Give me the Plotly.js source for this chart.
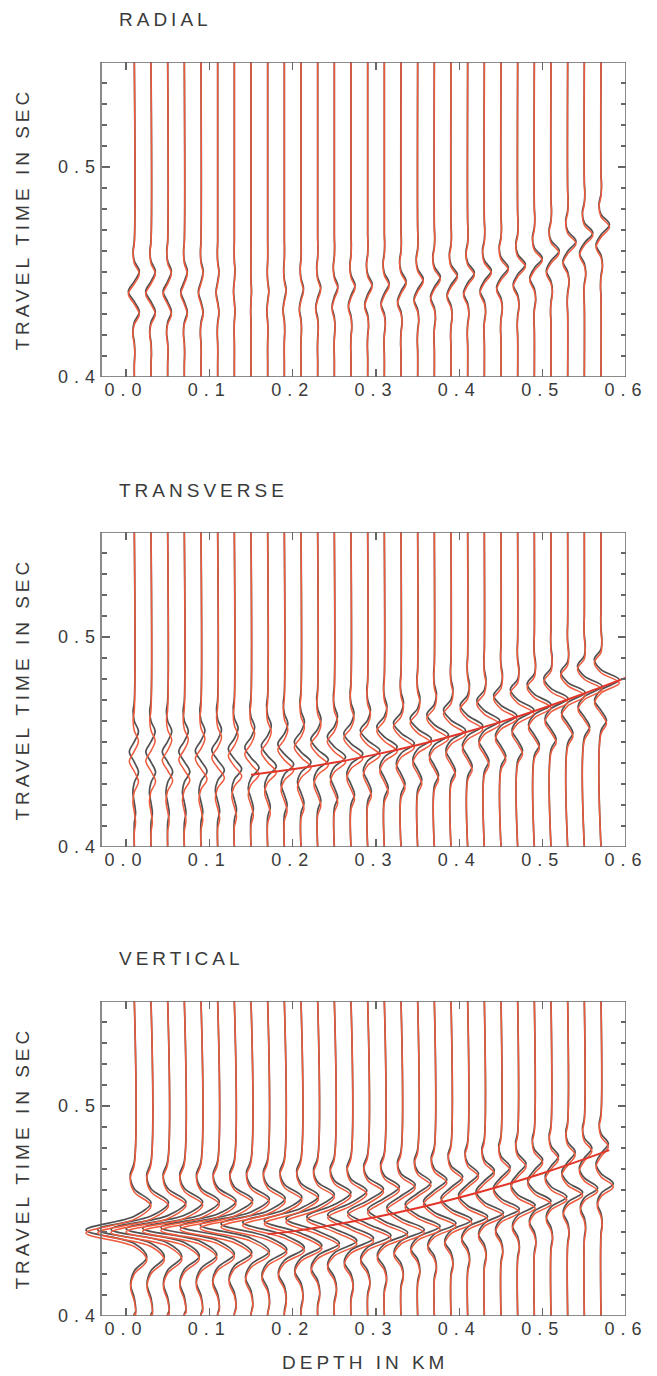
<!DOCTYPE html>
<html>
<head>
<meta charset="utf-8">
<script src="https://cdn.plot.ly/plotly-3.0.1.min.js"></script>
<style>
  html, body { margin: 0; padding: 0; background: #ffffff; }
  #chart { width: 657px; height: 1376px; }
  .xaxislayer-above text, .yaxislayer-above text { letter-spacing: 6px; }
  .annotation-text { letter-spacing: 4px; }
</style>
</head>
<body>
<div id="chart"></div>
<script>
// ---------------- DATA ----------------
const depths = [0.01,0.03,0.05,0.07,0.09,0.11,0.13,0.15,0.17,0.19,0.21,0.23,0.25,0.27,0.29,
                0.31,0.33,0.35,0.37,0.39,0.41,0.43,0.45,0.47,0.49,0.51,0.53,0.55,0.57];
const xTickVals = [0.0,0.1,0.2,0.3,0.4,0.5,0.6];
const xTickText = ['0.0','0.1','0.2','0.3','0.4','0.5','0.6'];
const yTickVals = [0.4,0.5];
const yTickText = ['0.4','0.5'];
const panelTitles = ['RADIAL','TRANSVERSE','VERTICAL'];

// RADIAL: centre-lobe time (s), lobe spacing (s) and lobe deflections (km) below / at / above the centre
const radCentre = [.4395,.4395,.4395,.4395,.4395,.4395,.4400,.4400,.4400,.4405,.4410,.4415,.4420,.4425,.4430,
                   .4435,.4445,.4455,.4465,.4475,.4485,.4495,.4510,.4525,.4555,.4590,.4635,.4675,.4714];
const radSpacing = [.0097,.0097,.0097,.0097,.0097,.0097,.0097,.0097,.0097,.0097,.0097,.0097,.0097,.0097,.0097,
                    .0097,.0097,.0097,.0097,.0097,.0097,.0097,.0097,.0097,.0097,.0097,.0097,.0097,.0097];
const radLow  = [.0060,.0052,.0045,.0036,.0026,.0016,.0008,-.0004,-.0010,-.0016,-.0020,-.0024,-.0028,-.0032,-.0036,
                 -.0040,-.0042,-.0044,-.0046,-.0048,-.0050,-.0052,-.0053,-.0054,-.0055,-.0056,-.0057,-.0058,-.0060];
const radMid  = [-.0072,-.0064,-.0055,-.0044,-.0032,-.0020,-.0010,.0006,.0014,.0022,.0030,.0037,.0043,.0049,.0054,
                 .0058,.0062,.0067,.0072,.0076,.0080,.0084,.0088,.0092,.0095,.0098,.0100,.0102,.0102];
const radHigh = [.0060,.0052,.0045,.0036,.0026,.0016,.0008,-.0002,-.0005,-.0008,-.0010,-.0012,-.0013,-.0014,-.0015,
                 -.0016,-.0017,-.0018,-.0019,-.0020,-.0021,-.0022,-.0022,-.0023,-.0023,-.0024,-.0024,-.0024,-.0024];
const radShadowShift = [.0012,.0012,.0012,.0012,.0012,.0012,.0012,.0012,.0012,.0012,.0012,.0012,.0012,.0012,.0012,
                        .0012,.0012,.0012,.0012,.0012,.0012,.0012,.0012,.0012,.0012,.0012,.0012,.0012,.0012];

// TRANSVERSE
const trnCentre = [.4408,.4409,.4412,.4415,.4420,.4426,.4434,.4442,.4452,.4463,.4475,.4488,.4502,.4518,.4534,
                   .4552,.4571,.4591,.4612,.4634,.4657,.4681,.4706,.4733,.4760,.4788,.4817,.4847,.4878];
const trnSpacing = [.0097,.0097,.0097,.0097,.0097,.0097,.0097,.0097,.0097,.0097,.0097,.0097,.0097,.0097,.0097,
                    .0097,.0097,.0097,.0097,.0097,.0097,.0097,.0097,.0097,.0097,.0097,.0097,.0097,.0097];
const trnLow  = [.0050,.0055,.0060,.0066,.0072,.0080,.0088,.0096,.0104,.0112,.0120,.0128,.0135,.0142,.0148,
                 .0154,.0160,.0165,.0170,.0175,.0180,.0185,.0190,.0195,.0200,.0205,.0210,.0215,.0220];
const trnMid  = [-.0060,-.0062,-.0064,-.0066,-.0068,-.0070,-.0072,-.0074,-.0076,-.0078,-.0080,-.0082,-.0084,-.0086,-.0088,
                 -.0090,-.0090,-.0090,-.0090,-.0090,-.0090,-.0090,-.0088,-.0088,-.0086,-.0086,-.0084,-.0082,-.0080];
const trnHigh = [.0050,.0050,.0049,.0048,.0047,.0046,.0045,.0044,.0043,.0042,.0041,.0040,.0038,.0036,.0034,
                 .0032,.0030,.0028,.0026,.0024,.0022,.0020,.0018,.0016,.0015,.0014,.0012,.0011,.0010];
const trnShadowShift = [.0045,.0044,.0042,.0040,.0038,.0036,.0034,.0032,.0030,.0028,.0026,.0025,.0024,.0023,.0022,
                        .0021,.0020,.0020,.0019,.0019,.0018,.0018,.0017,.0017,.0016,.0016,.0016,.0015,.0015];
const trnLineDepth = [0.15,0.20,0.25,0.30,0.35,0.40,0.45,0.50,0.55,0.60];
const trnLineTime  = [0.4344,0.4370,0.4402,0.4441,0.4486,0.4538,0.4596,0.4661,0.4731,0.4806];

// VERTICAL
const vtcCentre = [.4395,.4396,.4398,.4400,.4403,.4407,.4412,.4418,.4424,.4431,.4439,.4448,.4458,.4468,.4479,
                   .4491,.4503,.4517,.4531,.4546,.4561,.4578,.4595,.4612,.4631,.4650,.4670,.4690,.4711];
const vtcSpacing = [.0130,.0130,.0130,.0129,.0128,.0127,.0126,.0125,.0123,.0121,.0119,.0117,.0115,.0113,.0111,
                    .0109,.0107,.0105,.0104,.0103,.0102,.0101,.0100,.0099,.0098,.0097,.0096,.0095,.0095];
const vtcLow  = [.015,.016,.017,.018,.019,.020,.021,.022,.023,.024,.025,.026,.027,.027,.028,
                 .028,.028,.027,.026,.025,.024,.023,.022,.021,.020,.019,.018,.016,.0148];
const vtcMid  = [-.058,-.064,-.068,-.070,-.070,-.068,-.065,-.061,-.056,-.050,-.044,-.038,-.033,-.028,-.024,
                 -.020,-.017,-.015,-.013,-.012,-.011,-.010,-.009,-.008,-.008,-.007,-.007,-.006,-.006];
const vtcHigh = [.020,.021,.022,.022,.022,.022,.022,.022,.021,.021,.021,.020,.020,.019,.019,
                 .018,.017,.016,.015,.014,.013,.012,.011,.010,.010,.009,.009,.009,.0088];
const vtcShadowShift = [.0015,.0015,.0015,.0015,.0015,.0015,.0015,.0015,.0015,.0015,.0015,.0015,.0015,.0015,.0015,
                        .0015,.0015,.0015,.0015,.0015,.0015,.0015,.0015,.0015,.0015,.0015,.0015,.0015,.0015];
const vtcLineDepth = [0.17,0.20,0.25,0.30,0.35,0.40,0.45,0.50,0.55,0.58];
const vtcLineTime  = [0.4390,0.4403,0.4434,0.4471,0.4514,0.4564,0.4619,0.4680,0.4747,0.4790];

// ---------------- STYLE / GEOMETRY ----------------
const T_MIN = 0.4, T_MAX = 0.55;
const X_MIN = -0.06, X_FRAME = -0.03, X_MAX = 0.6;
const W = 657, H = 1376, ML = 76, MR = 31, MT = 62, MB = 60;
const plotW = W - ML - MR, plotH = H - MT - MB;
const RED = '#f05a3c', SHADOW = 'rgba(50,50,50,0.85)', AXC = '#666666', TXT = '#3a3a3a';
const FONT = 'Liberation Sans, Arial, sans-serif';

// panel pixel boxes (top, bottom)
const panelPx = [[62, 377], [532, 847], [1001, 1316]];
const dom = panelPx.map(p => [(H - MB - p[1]) / plotH, (H - MB - p[0]) / plotH]);

const panels = [
  {centre: radCentre, spacing: radSpacing, low: radLow, mid: radMid, high: radHigh, shift: radShadowShift,
   tail: [-0.30, 0.10, -0.25]},
  {centre: trnCentre, spacing: trnSpacing, low: trnLow, mid: trnMid, high: trnHigh, shift: trnShadowShift,
   tail: [-0.35, 0.30, -0.30], lineX: trnLineDepth, lineT: trnLineTime},
  {centre: vtcCentre, spacing: vtcSpacing, low: vtcLow, mid: vtcMid, high: vtcHigh, shift: vtcShadowShift,
   tail: [-0.30, 0.10, -0.25], lineX: vtcLineDepth, lineT: vtcLineTime}
];

function wiggles(P, useShift) {
  const xs = [], ys = [];
  for (let i = 0; i < depths.length; i++) {
    const d = depths[i];
    const L = P.spacing[i];
    const tc = P.centre[i] + (useShift ? P.shift[i] : 0);
    const lobes = [
      [-3, P.tail[1] * P.low[i]],
      [-2, P.tail[0] * P.low[i]],
      [-1, P.low[i]],
      [0, P.mid[i]],
      [1, P.high[i]],
      [2, P.tail[2] * P.high[i]]
    ];
    xs.push(d); ys.push(T_MIN);
    xs.push(d); ys.push(Math.max(T_MIN + 0.001, tc - 3.5 * L));
    lobes.forEach(([k, a]) => {
      xs.push(d + a); ys.push(tc + k * L);
      xs.push(d); ys.push(tc + (k + 0.5) * L);
    });
    xs.push(d); ys.push(T_MAX);
    xs.push(null); ys.push(null);
  }
  return {xs, ys};
}

const data = [];
const layout = {
  width: W, height: H,
  margin: {l: ML, r: MR, t: MT, b: MB},
  paper_bgcolor: '#ffffff', plot_bgcolor: '#ffffff',
  showlegend: false,
  font: {family: FONT, color: TXT, size: 18},
  shapes: [], annotations: []
};

panels.forEach((P, p) => {
  const n = p + 1;
  const xa = 'x' + n, ya = 'y' + n;
  const sh = wiggles(P, true);
  const rd = wiggles(P, false);
  data.push({type: 'scatter', mode: 'lines', x: sh.xs, y: sh.ys, xaxis: xa, yaxis: ya,
             line: {color: SHADOW, width: 1.7, shape: 'spline', smoothing: 1}, hoverinfo: 'skip'});
  data.push({type: 'scatter', mode: 'lines', x: rd.xs, y: rd.ys, xaxis: xa, yaxis: ya,
             line: {color: RED, width: 1.5, shape: 'spline', smoothing: 1}, hoverinfo: 'skip'});
  if (P.lineX) {
    data.push({type: 'scatter', mode: 'lines', x: P.lineX, y: P.lineT, xaxis: xa, yaxis: ya,
               line: {color: '#e2362a', width: 2, shape: 'spline'}, hoverinfo: 'skip'});
  }
  // dummy trace for the right-hand tick axis
  data.push({type: 'scatter', mode: 'lines', x: [], y: [], xaxis: xa, yaxis: 'y' + (n + 3), hoverinfo: 'skip'});

  layout['xaxis' + n] = {
    domain: [0, 1], range: [X_MIN, X_MAX], anchor: ya,
    tickvals: xTickVals, ticktext: xTickText,
    ticks: 'inside', ticklen: 8, tickwidth: 1.3, tickcolor: AXC, mirror: 'ticks',
    showline: false, showgrid: false, zeroline: false,
    tickfont: {family: FONT, size: 18, color: TXT}
  };
  layout['yaxis' + n] = {
    domain: dom[p], range: [T_MIN, T_MAX], anchor: 'free',
    position: (X_FRAME - X_MIN) / (X_MAX - X_MIN),
    tickvals: yTickVals, ticktext: yTickText,
    ticks: 'inside', ticklen: 8, tickwidth: 1.3, tickcolor: AXC,
    minor: {dtick: 0.01, ticks: 'inside', ticklen: 5, tickwidth: 1.2, tickcolor: AXC},
    showline: false, showgrid: false, zeroline: false,
    tickfont: {family: FONT, size: 18, color: TXT}
  };
  layout['yaxis' + (n + 3)] = {
    domain: dom[p], range: [T_MIN, T_MAX], anchor: xa, overlaying: ya, side: 'right',
    tickvals: yTickVals, showticklabels: false,
    ticks: 'inside', ticklen: 8, tickwidth: 1.3, tickcolor: AXC,
    minor: {dtick: 0.01, ticks: 'inside', ticklen: 5, tickwidth: 1.2, tickcolor: AXC},
    showline: false, showgrid: false, zeroline: false
  };
  layout.shapes.push({type: 'rect', xref: xa, yref: ya, x0: X_FRAME, x1: X_MAX, y0: T_MIN, y1: T_MAX,
                      line: {color: AXC, width: 1.5}, layer: 'above'});

  const titleY = [20, 490, 958][p];
  layout.annotations.push({text: panelTitles[p], xref: 'paper', yref: 'paper',
    x: (117 - ML) / plotW, y: (H - MB - titleY) / plotH, xanchor: 'left', yanchor: 'middle',
    showarrow: false, font: {family: FONT, size: 19, color: TXT}});
  const midY = (panelPx[p][0] + panelPx[p][1]) / 2;
  layout.annotations.push({text: 'TRAVEL TIME IN SEC', xref: 'paper', yref: 'paper',
    x: (22 - ML) / plotW, y: (H - MB - midY) / plotH, xanchor: 'center', yanchor: 'middle',
    textangle: -90, showarrow: false, font: {family: FONT, size: 19, color: TXT}});
});

layout.annotations.push({text: 'DEPTH IN KM', xref: 'paper', yref: 'paper',
  x: (365 - ML) / plotW, y: (H - MB - 1362) / plotH, xanchor: 'center', yanchor: 'middle',
  showarrow: false, font: {family: FONT, size: 19, color: TXT}});

Plotly.newPlot('chart', data, layout, {displayModeBar: false, staticPlot: true});
</script>
</body>
</html>
